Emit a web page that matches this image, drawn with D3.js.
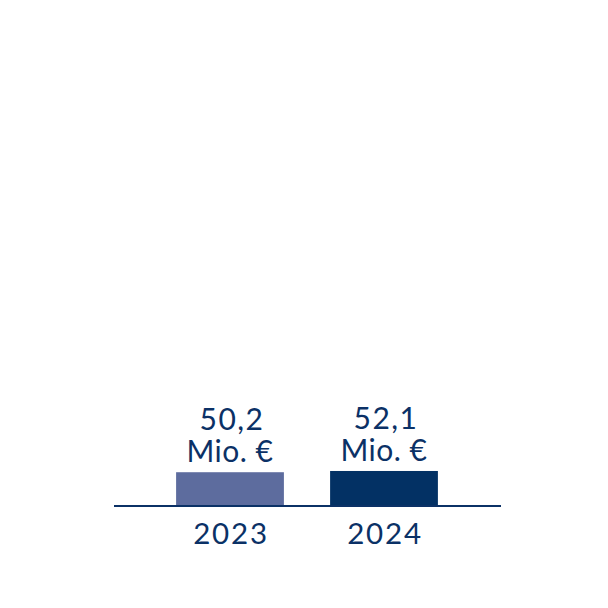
<!DOCTYPE html>
<html>
<head>
<meta charset="utf-8">
<script src="https://cdn.jsdelivr.net/npm/d3@7"></script>
<style>
  html, body { margin: 0; padding: 0; background: #fff; }
  svg { display: block; }
  text { font-family: "Lato", "Open Sans", sans-serif; fill: #0b3166; }
</style>
</head>
<body>
<script>
// data
var years = ["2023", "2024"];
var values = [50.2, 52.1];
var valueLabels = ["50,2", "52,1"];
var unitLabel = "Mio. €";
var barColors = ["#5d6c9e", "#033164"];

var width = 608;
var height = 608;

var svg = d3.select("body").append("svg")
  .attr("width", width)
  .attr("height", height);

var x = d3.scaleBand()
  .domain(years)
  .range([153, 461])
  .paddingInner(0.3)
  .paddingOuter(0.15);

var y = d3.scaleLinear()
  .domain([0, 100])
  .range([505, 439.7]);

//bars
svg.selectAll(".bar")
  .data(values)
  .enter().append("rect")
  .attr("class", "bar")
  .attr("x", function (d, i) { return x(years[i]); })
  .attr("y", function (d) { return y(d); })
  .attr("width", x.bandwidth())
  .attr("height", function (d) { return y(0) - y(d); })
  .attr("fill", function (d, i) { return barColors[i]; });

//baseline
svg.append("line")
  .attr("x1", 114)
  .attr("x2", 501)
  .attr("y1", y(0) + 1)
  .attr("y2", y(0) + 1)
  .attr("stroke", "#0b3166")
  .attr("stroke-width", 2);

//value labels
var lab = svg.selectAll(".val")
  .data(values)
  .enter().append("text")
  .attr("class", "val")
  .attr("text-anchor", "middle")
  .attr("font-size", 30);
lab.append("tspan")
  .attr("letter-spacing", 1.5)
  .attr("x", function (d, i) { return x(years[i]) + x.bandwidth() / 2 + 2; })
  .attr("y", function (d) { return y(d) - 42; })
  .text(function (d, i) { return valueLabels[i]; });
lab.append("tspan")
  .attr("letter-spacing", 0.5)
  .attr("x", function (d, i) { return x(years[i]) + x.bandwidth() / 2; })
  .attr("y", function (d) { return y(d) - 10; })
  .text(unitLabel);

//year labels
svg.selectAll(".year")
  .data(years)
  .enter().append("text")
  .attr("class", "year")
  .attr("text-anchor", "middle")
  .attr("font-size", 29.5)
  .attr("letter-spacing", 1.8)
  .attr("x", function (d) { return x(d) + x.bandwidth() / 2 + 1; })
  .attr("y", 543.5)
  .text(function (d) { return d; });
</script>
</body>
</html>
